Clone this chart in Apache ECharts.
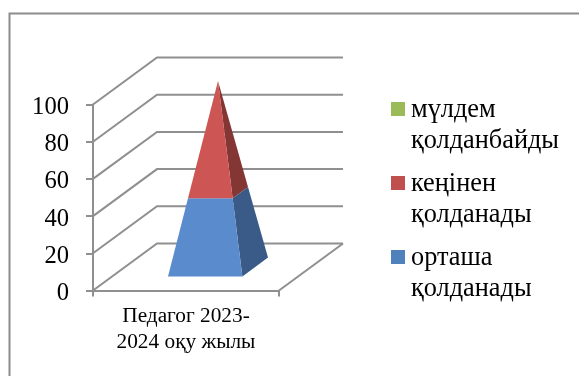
<!DOCTYPE html>
<html><head><meta charset="utf-8">
<style>html,body{margin:0;padding:0;background:#fff}#c{width:579px;height:376px}</style>
<script src="https://cdn.jsdelivr.net/npm/echarts@6/dist/echarts.min.js"></script>
</head><body><div id="c"></div>
<script>
const categories = ['Педагог 2023-\n2024 оқу жылы'];
const yTicks = [0, 20, 40, 60, 80, 100];
const seriesNames = ['орташа\nқолданады', 'кеңінен\nқолданады', 'мүлдем\nқолданбайды'];
const blueValues = [40];
const redValues = [60];
const greenValues = [0];

const FONT = '"Liberation Serif","Times New Roman",serif';
const GRID = '#8f8f8f';
const DX = 64, DY = -47;
const BASE_HALF = 0.2, D_NEAR = 0.3, D_FAR = 0.7, D_MID = 0.5;
const TOP = 100;

function wallItem(params, api) {
  const v = api.value(0);
  const left = api.coord([0, v]);
  const x0 = params.coordSys.x, x1 = x0 + params.coordSys.width;
  const y = left[1];
  return {
    type: 'polyline', silent: true,
    shape: { points: [[x0, y], [x0 + DX, y + DY], [x1 + DX, y + DY]] },
    style: { stroke: GRID, lineWidth: 2, fill: null }
  };
}
function floorEdge(params, api) {
  const y = api.coord([0, 0])[1];
  const x1 = params.coordSys.x + params.coordSys.width;
  return { type: 'line', silent: true,
    shape: { x1: x1, y1: y, x2: x1 + DX, y2: y + DY },
    style: { stroke: GRID, lineWidth: 2 } };
}
function pyramidItem(front, side) {
  return function (params, api) {
    const c = api.value(0), v0 = api.value(1), v1 = api.value(2);
    if (v1 <= v0) return { type: 'group', children: [] };
    const cx = api.coord([c, 0])[0];
    const half = api.size([1, 0])[0] * BASE_HALF;
    const y0 = api.coord([c, 0])[1];
    const h = y0 - api.coord([c, TOP])[1];
    const apex = [cx + DX * D_MID, y0 + DY * D_MID - h];
    function pt(sx, d, v) {
      const bx = cx + sx * half + DX * d, by = y0 + DY * d;
      const t = v / TOP;
      return [bx + (apex[0] - bx) * t, by + (apex[1] - by) * t];
    }
    return { type: 'group', children: [
      { type: 'polygon', shape: { points: [pt(1, D_NEAR, v0), pt(1, D_FAR, v0), pt(1, D_FAR, v1), pt(1, D_NEAR, v1)] }, style: { fill: side } },
      { type: 'polygon', shape: { points: [pt(-1, D_NEAR, v0), pt(1, D_NEAR, v0), pt(1, D_NEAR, v1), pt(-1, D_NEAR, v1)] }, style: { fill: front } }
    ] };
  };
}
const blueStart = blueValues[0], redEnd = blueStart + redValues[0];
const ICON = 'path://M0 0H14V14H0Z M0 48L0 48';
const chart = echarts.init(document.getElementById('c'), null, { renderer: 'canvas' });
chart.setOption({
  animation: false,
  backgroundColor: '#fff',
  grid: { left: 93, top: 104.5, width: 186, height: 186 },
  xAxis: {
    type: 'category', data: categories,
    axisLine: { lineStyle: { color: GRID, width: 2 } },
    axisTick: { show: true, length: 6, lineStyle: { color: GRID, width: 2 } },
    axisLabel: { color: '#000', fontFamily: FONT, fontSize: 21.3, lineHeight: 26, margin: 13, interval: 0 }
  },
  yAxis: {
    type: 'value', min: 0, max: 100, interval: 20,
    axisLine: { show: true, lineStyle: { color: GRID, width: 2 } },
    axisTick: { show: true, length: 7, lineStyle: { color: GRID, width: 2 } },
    splitLine: { show: false },
    axisLabel: { color: '#000', fontFamily: FONT, fontSize: 24.6, margin: 24, verticalAlign: 'top', lineHeight: 6 }
  },
  legend: {
    orient: 'vertical', left: 391, top: 94, padding: 0, itemWidth: 14, itemHeight: 48, itemGap: 10,
    selectedMode: false, align: 'left',
    data: [seriesNames[2], seriesNames[1], seriesNames[0]].map(n => ({ name: n, icon: ICON })),
    textStyle: { color: '#000', fontFamily: FONT, fontSize: 26.3, lineHeight: 31, padding: [2, 0, 0, 1] }
  },
  series: [
    { type: 'custom', name: 'wall', silent: true, z: 1, data: yTicks.map(v => [v]), renderItem: wallItem, encode: { y: 0 }, clip: false },
    { type: 'custom', name: 'floor', silent: true, z: 1, data: [[0]], renderItem: floorEdge, encode: { y: 0 }, clip: false },
    { type: 'custom', name: seriesNames[0], z: 3, itemStyle: { color: '#4f81bd' }, clip: false, encode: { x: 0, y: [1, 2] },
      data: [[0, 0, blueStart]], renderItem: pyramidItem('#5a8bcc', '#3a5b87') },
    { type: 'custom', name: seriesNames[1], z: 3, itemStyle: { color: '#c0504d' }, clip: false, encode: { x: 0, y: [1, 2] },
      data: [[0, blueStart, redEnd]], renderItem: pyramidItem('#cd5654', '#843634') },
    { type: 'custom', name: seriesNames[2], z: 3, itemStyle: { color: '#9bbb59' }, clip: false, encode: { x: 0, y: [1, 2] },
      data: [[0, redEnd, redEnd + greenValues[0]]], renderItem: pyramidItem('#9bbb59', '#6f8a3c') }
  ],
  graphic: [
    { type: 'polyline', silent: true, shape: { points: [[9.5, 376], [9.5, 13.5], [579, 13.5]] }, style: { stroke: '#8c8c8c', lineWidth: 2, fill: null } }
  ]
});
</script></body></html>
